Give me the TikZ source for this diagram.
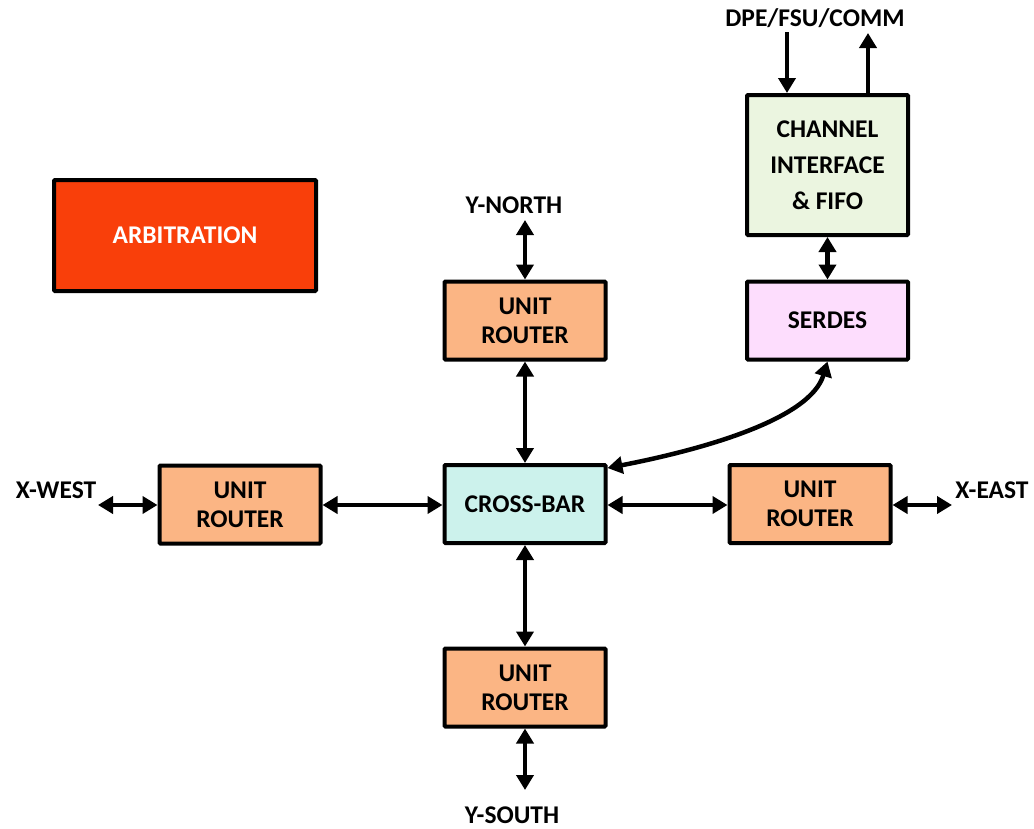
\documentclass[tikz,border=0pt]{standalone}
\usepackage{fontspec}
\setmainfont{Carlito}
\usetikzlibrary{arrows.meta}
\definecolor{arbfill}{HTML}{F93F0A}
\definecolor{routerfill}{HTML}{FBB584}
\definecolor{xbarfill}{HTML}{CCF2EC}
\definecolor{serdesfill}{HTML}{FDDDFD}
\definecolor{chanfill}{HTML}{EBF5E0}
\begin{document}
\begin{tikzpicture}[x=1pt,y=-1pt,
  txt/.style={font=\fontsize{25.5}{29}\selectfont\bfseries},
  box/.style={txt, draw=black, line width=4pt, rounded corners=1pt,
    align=center, inner sep=0pt, minimum width=161pt, minimum height=78pt},
  router/.style={box, fill=routerfill},
  lbl/.style={txt, inner sep=0pt},
  link/.style={line width=4.5pt, -{Triangle[length=15pt,width=17pt]}},
  duplex/.style={line width=4.5pt, {Triangle[length=15pt,width=17pt]}-{Triangle[length=15pt,width=17pt]}}]
\useasboundingbox (0,0) rectangle (1034,828);

% functional blocks
\node[box, fill=arbfill, text=white, minimum width=262pt, minimum height=111pt] (arb) at (185,235.5) {ARBITRATION};
\node[box, fill=xbarfill] (xbar) at (525,504) {CROSS-BAR};
\node[router] (rn) at (525,320.5) {UNIT\\ROUTER};
\node[router] (rs) at (525,687.5) {UNIT\\ROUTER};
\node[router] (rw) at (240,504.5) {UNIT\\ROUTER};
\node[router] (re) at (810,504) {UNIT\\ROUTER};
\node[box, fill=serdesfill] (serdes) at (827.5,320.5) {SERDES};
\node[box, fill=chanfill, minimum height=140pt, font=\fontsize{25.5}{36}\selectfont\bfseries] (chan) at (827.5,165) {CHANNEL\\INTERFACE\\\& FIFO};

% port labels
\node[lbl] (ynorth) at (514,205) {Y-NORTH};
\node[lbl] (ysouth) at (512,815) {Y-SOUTH};
\node[lbl] (xwest) at (56,490) {X-WEST};
\node[lbl] (xeast) at (992,490) {X-EAST};
\node[lbl] (ext) at (815,18) {DPE/FSU/COMM};

% free ends of the port connectors
\coordinate (pn) at (525,220);
\coordinate (ps) at (525,790);
\coordinate (pw) at (98,505);
\coordinate (pe) at (952,505);
\coordinate (pin) at (787,32);
\coordinate (pout) at (868,33);

% connectors
\draw[duplex] (pn) -- (rn.north);
\draw[duplex] (rn.south) -- (xbar.north);
\draw[duplex] (xbar.south) -- (rs.north);
\draw[duplex] (rs.south) -- (ps);
\draw[duplex] (pw) -- (rw.west |- pw);
\draw[duplex] (rw.east |- pw) -- (xbar.west |- pw);
\draw[duplex] (xbar.east |- pe) -- (re.west |- pe);
\draw[duplex] (re.east |- pe) -- (pe);
\draw[duplex] (chan.south) -- (serdes.north);
\draw[link] (pin) -- (pin |- chan.north);
\draw[link] (pout |- chan.north) -- (pout);
\draw[duplex] (serdes.south) .. controls (810,420) and (700,450) .. ([yshift=-5pt]xbar.north east);
\end{tikzpicture}
\end{document}
